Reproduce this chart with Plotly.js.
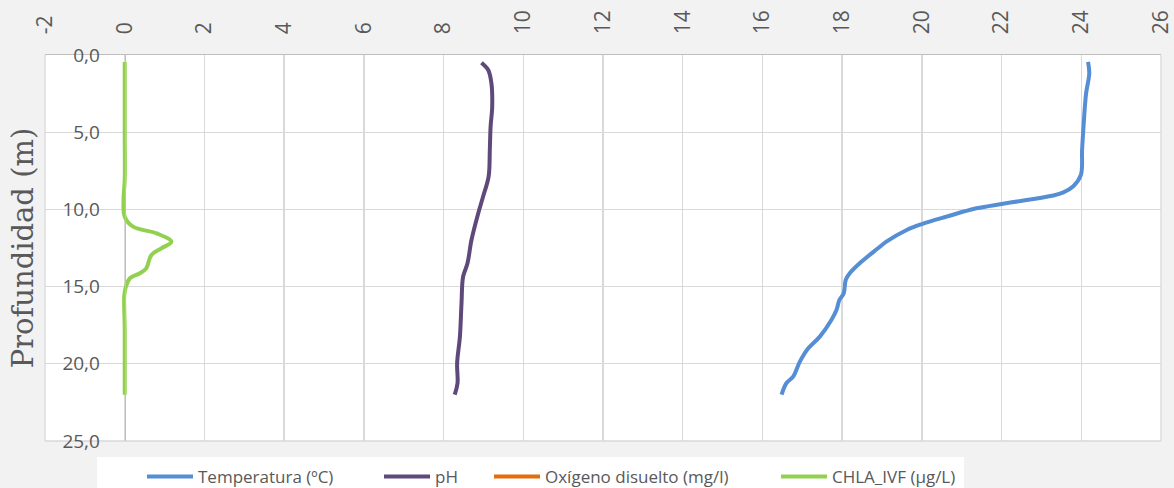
<!DOCTYPE html>
<html>
<head>
<meta charset="utf-8">
<script src="https://cdn.plot.ly/plotly-3.0.1.min.js"></script>
<style>
  html, body { margin: 0; padding: 0; background: #f2f2f2; }
  #chart { width: 1174px; height: 488px; }
</style>
</head>
<body>
<div id="chart"></div>
<script>
// ---- Data ----
const seriesNames = ["Temperatura (ºC)", "pH", "Oxígeno disuelto (mg/l)", "CHLA_IVF (µg/L)"];

const tempValues = [24.17, 24.2, 24.12, 24.05, 24.02, 23.99, 23.8, 23.55, 23.3, 22.63, 22.0, 21.37, 20.62, 20.0, 19.62, 19.11, 18.9, 18.44, 18.19, 18.09, 18.04, 17.93, 17.86, 17.73, 17.44, 17.15, 16.94, 16.77, 16.6, 16.48];
const tempDepth  = [0.45, 1.2, 2.5, 4.86, 6.15, 7.77, 8.5, 8.9, 9.1, 9.39, 9.65, 9.93, 10.47, 10.95, 11.33, 12.09, 12.52, 13.49, 14.14, 14.57, 15.43, 15.87, 16.5, 17.16, 18.24, 19.0, 19.86, 20.83, 21.26, 22.0];

const phValues = [8.95, 9.12, 9.2, 9.22, 9.18, 9.16, 9.13, 8.99, 8.87, 8.7, 8.6, 8.49, 8.45, 8.41, 8.34, 8.35, 8.28];
const phDepth  = [0.5, 0.97, 1.83, 3.35, 4.64, 6.15, 7.88, 9.18, 10.25, 11.98, 13.49, 14.36, 16.08, 18.24, 19.97, 21.26, 22.0];

const oxValues = [null];
const oxDepth  = [null];

const chlaValues = [0, 0, 0, -0.03, 0, 0.21, 0.8, 1.17, 0.92, 0.67, 0.54, 0.38, 0.13, 0.03, -0.01, 0, 0];
const chlaDepth  = [0.45, 5.0, 8.1, 9.39, 10.47, 11.12, 11.55, 12.09, 12.52, 12.95, 13.82, 14.14, 14.46, 15.0, 15.54, 17.8, 22.0];

const xTickVals = [-2, 0, 2, 4, 6, 8, 10, 12, 14, 16, 18, 20, 22, 24, 26];
const xTickText = ["-2", "0", "2", "4", "6", "8", "10", "12", "14", "16", "18", "20", "22", "24", "26"];
const yTickVals = [0, 5, 10, 15, 20, 25];
const yTickText = ["0,0", "5,0", "10,0", "15,0", "20,0", "25,0"];

// ---- Styles ----
const colors = ["#558ed5", "#5f497a", "#e46c0a", "#92d050"];
const textColor = "#595959";
const uiFont = "Open Sans, Liberation Sans, sans-serif";

const PL = 45, PR = 13, PT = 55, PB = 47;
const W = 1174, H = 488;
const plotW = W - PL - PR, plotH = H - PT - PB;
const xMin = -2, xMax = 26;
const yAxisPos = (0 - xMin) / (xMax - xMin);

function mk(x, y, i, legendId) {
  return {
    x: x, y: y, name: seriesNames[i], type: "scatter", mode: "lines",
    line: { color: colors[i], width: 4, shape: "spline", smoothing: 1 },
    legend: legendId, showlegend: true, hoverinfo: "skip"
  };
}

const traces = [
  mk(tempValues, tempDepth, 0, "legend"),
  mk(phValues, phDepth, 1, "legend2"),
  mk(oxValues, oxDepth, 2, "legend3"),
  mk(chlaValues, chlaDepth, 3, "legend4")
];

// legend entry line start pixels in the reference
const legendStarts = [147, 384, 494, 781];
function legendCfg(px) {
  return {
    orientation: "h",
    xref: "container", yref: "container",
    x: (px - 5) / W, xanchor: "left",
    y: (H - 477) / H, yanchor: "middle",
    bgcolor: "rgba(0,0,0,0)",
    font: { family: uiFont, size: 17, color: textColor },
    itemwidth: 46
  };
}

const layout = {
  width: W, height: H,
  margin: { l: PL, r: PR, t: PT, b: PB, pad: 0, autoexpand: false },
  paper_bgcolor: "#f2f2f2",
  plot_bgcolor: "#ffffff",
  showlegend: true,
  separators: ",.",
  xaxis: {
    side: "top",
    range: [xMin, xMax],
    tickmode: "array", tickvals: xTickVals, ticktext: xTickText,
    tickangle: -90,
    tickfont: { family: uiFont, size: 21, color: textColor },
    ticks: "", ticklabelstandoff: 15,
    showgrid: true, gridcolor: "#d9d9d9", gridwidth: 1.3,
    zeroline: false,
    showline: true, linecolor: "#bfbfbf", linewidth: 1.5,
    fixedrange: true
  },
  yaxis: {
    range: [25, 0],
    anchor: "free", position: yAxisPos,
    tickmode: "array", tickvals: yTickVals, ticktext: yTickText,
    tickfont: { family: uiFont, size: 19, color: textColor },
    ticks: "", ticklabelstandoff: 21,
    showgrid: true, gridcolor: "#d9d9d9", gridwidth: 1.3,
    zeroline: false,
    showline: true, linecolor: "#bfbfbf", linewidth: 1.5,
    title: { text: "Profundidad (m)", font: { family: "DejaVu Serif, Liberation Serif, serif", size: 29, color: textColor }, standoff: 18 },
    fixedrange: true
  },
  legend: legendCfg(legendStarts[0]),
  legend2: legendCfg(legendStarts[1]),
  legend3: legendCfg(legendStarts[2]),
  legend4: legendCfg(legendStarts[3]),
  shapes: [
    { type: "rect", xref: "paper", yref: "paper", layer: "below",
      x0: (97 - PL) / plotW, x1: (964 - PL) / plotW,
      y0: -(H + 5 - (H - PB)) / plotH, y1: -(457 - (H - PB)) / plotH,
      fillcolor: "#ffffff", line: { width: 0 } },
    { type: "line", xref: "paper", yref: "paper", layer: "below",
      x0: 0, x1: 0, y0: 0, y1: 1, line: { color: "#d9d9d9", width: 1.3 } },
    { type: "line", xref: "paper", yref: "paper", layer: "below",
      x0: 1, x1: 1, y0: 0, y1: 1, line: { color: "#d9d9d9", width: 1.3 } },
    { type: "line", xref: "paper", yref: "paper", layer: "below",
      x0: 0, x1: 1, y0: 0, y1: 0, line: { color: "#d9d9d9", width: 1.3 } }
  ]
};

Plotly.newPlot("chart", traces, layout, { displayModeBar: false, staticPlot: true });
</script>
</body>
</html>
